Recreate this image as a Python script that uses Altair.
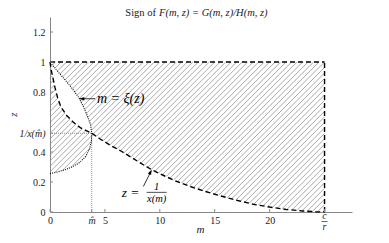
import altair as alt
import numpy as np
import pandas as pd

# ---------------- data ----------------
# dashed boundary  z = 1/x(m)
curve_m = [0.0, 0.1, 0.25, 0.45, 0.7, 1.0, 1.5, 2.1, 2.8, 3.8, 4.6, 5.5, 6.5, 7.5, 8.5, 9.3,
           10.3, 11.5, 12.7, 14.0, 15.5, 17.0, 18.5, 20.0, 21.5, 23.0, 24.2, 25.0]
curve_z = [1.0, 0.95, 0.90, 0.83, 0.76, 0.70, 0.645, 0.60, 0.56, 0.525, 0.485, 0.445, 0.405,
           0.36, 0.315, 0.28, 0.245, 0.205, 0.172, 0.14, 0.108, 0.078, 0.052, 0.033, 0.017,
           0.007, 0.002, 0.0]
# dotted boundary  m = xi(z)
xi_z = [0.256, 0.265, 0.28, 0.30, 0.33, 0.37, 0.42, 0.47, 0.525, 0.58, 0.64, 0.70, 0.76,
        0.83, 0.90, 0.95, 1.0]
xi_m = [0.0, 0.6, 1.3, 2.0, 2.7, 3.25, 3.6, 3.77, 3.8, 3.7, 3.4, 3.05, 2.65, 1.95, 1.15,
        0.55, 0.0]
m_hat = 3.8
z_hat = 0.525
c_over_r = 25.0
z_top = 1.0

x_ticks = [0, m_hat, 5, 10, 15, 20, c_over_r]
y_ticks = [0, 0.2, 0.4, z_hat, 0.8, 1.0, 1.2]

# ---------------- layout / style ----------------
W, H = 302, 195
M_MAX, Z_MAX = 27.5, 1.3
FONT = "Liberation Serif"
AX = "#888888"

X_SCALE = alt.Scale(domain=[0, M_MAX], nice=False, zero=False)
Y_SCALE = alt.Scale(domain=[0, Z_MAX], nice=False, zero=False)

x_axis = alt.Axis(
    values=x_ticks, format="~g",
    labelExpr="datum.value == 3.8 ? 'm\u0302' : (datum.value == 25 ? '' : datum.label)",
    ticks=False, grid=False, domainColor=AX, domainWidth=1,
    labelPadding=3, labelFont=FONT, labelFontSize=10, labelColor="#222",
    labelFontStyle={"condition": {"test": "datum.value == 3.8", "value": "italic"}, "value": "normal"},
    labelOverlap=False, labelFlush=False,
    title="m", titleFont=FONT, titleFontSize=11, titleFontStyle="italic",
    titleFontWeight="normal", titleColor="#222", titleX=150, titleY=17, titleBaseline="middle",
)
y_axis = alt.Axis(
    values=y_ticks, format="~g",
    labelExpr="datum.value == 0.525 ? '1/x(m\u0302)' : datum.label",
    ticks=False, grid=False, domainColor=AX, domainWidth=1,
    labelPadding=5, labelFont=FONT, labelFontSize=10, labelColor="#222",
    labelFontStyle={"condition": {"test": "datum.value == 0.525", "value": "italic"}, "value": "normal"},
    labelOverlap=False, labelFlush=False,
    title="z", titleFont=FONT, titleFontSize=11, titleFontStyle="italic",
    titleFontWeight="normal", titleColor="#222", titleX=-37, titleY=97, titleBaseline="middle",
)


def X(f):
    return alt.X(f, type="quantitative", scale=X_SCALE, axis=x_axis)


def Y(f):
    return alt.Y(f, type="quantitative", scale=Y_SCALE, axis=y_axis)


# ---------------- hatch (sign region) ----------------
bm = np.array(curve_m)
bz = np.array(curve_z)
xz = np.array(xi_z)
xm = np.array(xi_m)
k = (W / M_MAX) / (H / Z_MAX)  # 45 deg on screen
spacing = 0.5
segs = []
for c in np.arange(-z_top / k, c_over_r, spacing):
    m0, m1 = max(0.0, c), min(c_over_r, c + z_top / k)
    if m1 <= m0:
        continue
    ms = np.linspace(m0, m1, int((m1 - m0) / 0.004) + 2)
    zs = k * (ms - c)
    above = zs > np.interp(ms, bm, bz)
    inside = (zs >= xz[0]) & (ms < np.interp(zs, xz, xm))
    mask = above ^ inside
    edges = np.flatnonzero(np.diff(np.concatenate(([0], mask.astype(int), [0]))))
    for s, e in zip(edges[::2], edges[1::2] - 1):
        if e > s:
            segs.append((ms[s], zs[s], ms[e], zs[e]))
hatch_df = pd.DataFrame(segs, columns=["m", "z", "m2", "z2"])

hatch = alt.Chart(hatch_df).mark_rule(color="#8c8c8c", strokeWidth=0.75).encode(
    x=X("m"), y=Y("z"), x2="m2", y2="z2")

curve_df = pd.DataFrame({"m": curve_m, "z": curve_z, "i": range(len(curve_m))})
curve = alt.Chart(curve_df).mark_line(color="black", strokeWidth=1.4, strokeDash=[5, 3]).encode(
    x=X("m"), y=Y("z"), order="i")

frame_df = pd.DataFrame({"m": [0, c_over_r], "z": [z_top, 0], "m2": [c_over_r, c_over_r],
                         "z2": [z_top, z_top]})
frame = alt.Chart(frame_df).mark_rule(color="black", strokeWidth=1.4, strokeDash=[5, 3]).encode(
    x=X("m"), y=Y("z"), x2="m2", y2="z2")

xi_df = pd.DataFrame({"m": xi_m, "z": xi_z, "i": range(len(xi_m))})
xi_line = alt.Chart(xi_df).mark_line(color="black", strokeWidth=1.1, strokeDash=[1, 1.2]).encode(
    x=X("m"), y=Y("z"), order="i")

ref_df = pd.DataFrame({"m": [m_hat, 0], "z": [0, z_hat], "m2": [m_hat, m_hat], "z2": [z_hat, z_hat]})
refs = alt.Chart(ref_df).mark_rule(color="#777777", strokeWidth=0.8, strokeDash=[1, 1]).encode(
    x=X("m"), y=Y("z"), x2="m2", y2="z2")

# inward ticks
xt = alt.Chart(pd.DataFrame({"v": x_ticks})).mark_rule(color=AX).encode(
    x=X("v"), y=alt.value(H), y2=alt.value(H - 3))
yt = alt.Chart(pd.DataFrame({"v": y_ticks})).mark_rule(color=AX).encode(
    y=Y("v"), x=alt.value(0), x2=alt.value(3))

# c/r tick label
cr_text = alt.Chart(pd.DataFrame({"m": [c_over_r, c_over_r], "t": ["c", "r"], "py": [H + 4, H + 15]})).mark_text(
    font=FONT, fontSize=10, fontStyle="italic", color="#222", baseline="middle").encode(
    x=X("m"), y=alt.Y("py:Q", scale=None), text="t")
cr_bar = alt.Chart(pd.DataFrame({"m": [c_over_r - 0.27], "m2": [c_over_r + 0.27]})).mark_rule(
    color="#222", strokeWidth=0.7).encode(x=X("m"), x2="m2", y=alt.value(H + 9.5))

# annotation: m = xi(z)
ann1_line = alt.Chart(pd.DataFrame({"m": [2.72], "m2": [4.1], "z": [0.755]})).mark_rule(
    color="black", strokeWidth=0.8).encode(x=X("m"), x2="m2", y=Y("z"))
ann1_head = alt.Chart(pd.DataFrame({"m": [2.68], "z": [0.755]})).mark_point(
    shape="M0,0L2,-0.75L2,0.75Z", filled=True, color="black", size=24, opacity=1).encode(
    x=X("m"), y=Y("z"))
ann1_text = alt.Chart(pd.DataFrame({"m": [4.28], "z": [0.755], "t": ["m = \u03be(z)"]})).mark_text(
    font=FONT, fontSize=14, fontStyle="italic", align="left", baseline="middle", color="black").encode(
    x=X("m"), y=Y("z"), text="t")

# annotation: z = 1/x(m)
ann2_line = alt.Chart(pd.DataFrame({"m": [8.5], "z": [0.17], "m2": [9.22], "z2": [0.275]})).mark_rule(
    color="black", strokeWidth=0.8).encode(x=X("m"), y=Y("z"), x2="m2", y2="z2")
ann2_head = alt.Chart(pd.DataFrame({"m": [9.25], "z": [0.281]})).mark_point(
    shape="M0,0L2,-0.75L2,0.75Z", filled=True, color="black", size=24, opacity=1, angle=116).encode(
    x=X("m"), y=Y("z"))
ann2_lhs = alt.Chart(pd.DataFrame({"m": [6.53], "z": [0.127], "t": ["z ="]})).mark_text(
    font=FONT, fontSize=13.5, fontStyle="italic", align="left", baseline="middle", color="black").encode(
    x=X("m"), y=Y("z"), text="t")
ann2_frac = alt.Chart(pd.DataFrame({"m": [9.72, 9.72], "z": [0.167, 0.087], "t": ["1", "x(m)"]})).mark_text(
    font=FONT, fontSize=10.5, fontStyle="italic", align="center", baseline="middle", color="black").encode(
    x=X("m"), y=Y("z"), text="t")
ann2_bar = alt.Chart(pd.DataFrame({"m": [8.8], "m2": [10.63], "z": [0.131]})).mark_rule(
    color="black", strokeWidth=0.7).encode(x=X("m"), x2="m2", y=Y("z"))

# title (mixed upright / italic)
title_a = alt.Chart(pd.DataFrame({"t": ["Sign of"]})).mark_text(
    font=FONT, fontSize=10.5, align="right", baseline="middle", color="#222").encode(
    text="t", x=alt.value(106), y=alt.value(-4.5))
title_b = alt.Chart(pd.DataFrame({"t": ["F(m, z) = G(m, z)/H(m, z)"]})).mark_text(
    font=FONT, fontSize=10.5, fontStyle="italic", align="left", baseline="middle", color="#222").encode(
    text="t", x=alt.value(109), y=alt.value(-4.5))

chart = alt.layer(
    hatch, refs, curve, frame, xi_line, xt, yt, cr_text, cr_bar,
    ann1_line, ann1_head, ann1_text, ann2_line, ann2_head, ann2_lhs, ann2_frac, ann2_bar,
    title_a, title_b,
).properties(
    width=W, height=H, autosize="none",
    padding={"left": 42, "top": 9, "right": 28, "bottom": 23},
).configure_view(stroke=None)

chart.save("out.html", embed_options={"renderer": "svg", "actions": False})
